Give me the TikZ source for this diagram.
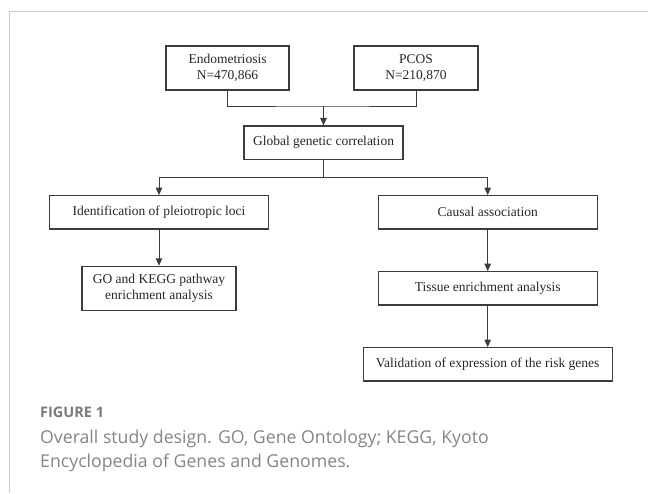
\documentclass[tikz,border=0pt]{standalone}
\usepackage{fontspec}
\setmainfont{Liberation Serif}
\newfontfamily\capfont{Open Sans}
\usetikzlibrary{arrows.meta}
\definecolor{boxline}{HTML}{3C3C3C}
\definecolor{frameline}{HTML}{CACACA}
\definecolor{capgray}{HTML}{858585}
\definecolor{figgray}{HTML}{7A7A7A}
\tikzset{
  stepbox/.style={draw=boxline, line width=1.1pt, rectangle, inner sep=0pt,
    align=center, font=\fontsize{13.5}{16.5}\selectfont, text=black!85},
  conn/.style={draw=boxline, line width=1pt},
  arr/.style={conn, -{Triangle[length=7.5pt,width=6.5pt]}},
  captext/.style={anchor=base west, inner sep=0pt, text=capgray,
    font=\capfont\fontsize{17.7}{21}\selectfont}
}
\begin{document}
\begin{tikzpicture}[x=1pt,y=-1pt]
\useasboundingbox (0,0) rectangle (648,493);
% frame
\draw[frameline, line width=1.2pt] (9.3,493) -- (9.3,11.5) -- (648,11.5);
% boxes
\node[stepbox, minimum width=123pt, minimum height=44pt] (endo) at (227.5,68) {Endometriosis\\N=470,866};
\node[stepbox, minimum width=124pt, minimum height=44pt] (pcos) at (416,68) {PCOS\\N=210,870};
\node[stepbox, minimum width=159pt, minimum height=33.3pt] (glob) at (323.5,142.6) {Global genetic correlation};
\node[stepbox, minimum width=219.4pt, minimum height=33.3pt] (ident) at (159,212.3) {Identification of pleiotropic loci};
\node[stepbox, minimum width=219.3pt, minimum height=33.3pt] (causal) at (487.7,212.3) {Causal association};
\node[stepbox, minimum width=154pt, minimum height=44pt] (go) at (159,288.3) {GO and KEGG pathway\\enrichment analysis};
\node[stepbox, minimum width=219.3pt, minimum height=33.3pt] (tissue) at (487.7,288.3) {Tissue enrichment analysis};
\node[stepbox, minimum width=249.3pt, minimum height=33.3pt] (valid) at (487.7,364.3) {Validation of expression of the risk genes};
% connectors
\coordinate (j1) at (323.5,106);
\coordinate (j2) at (323.5,177.3);
\draw[conn] (endo.south) |- (j1) -| (pcos.south);
\draw[arr] (j1) -- (glob.north);
\draw[conn] (glob.south) -- (j2);
\draw[arr] (j2) -| (ident.north);
\draw[arr] (j2) -| (causal.north);
\draw[arr] (ident.south) -- (go.north);
\draw[arr] (causal.south) -- (tissue.north);
\draw[arr] (tissue.south) -- (valid.north);
% caption
\node[captext, text=figgray, font=\capfont\bfseries\fontsize{14.5}{17}\selectfont] (figlab) at (40,417.5) {FIGURE 1};
\node[captext] (cap1) at (40,443) {Overall study design. GO, Gene Ontology; KEGG, Kyoto};
\node[captext] (cap2) at (40,467.5) {Encyclopedia of Genes and Genomes.};
\end{tikzpicture}
\end{document}
